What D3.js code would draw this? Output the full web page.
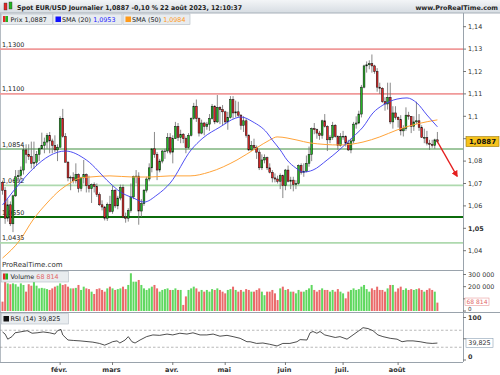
<!DOCTYPE html>
<html lang="fr">
<head>
<meta charset="UTF-8">
<title>Spot EUR/USD Journalier</title>
<script src="https://d3js.org/d3.v7.min.js"></script>
<style>
  body { margin: 0; background: #fff; }
  svg { display: block; font-family: "DejaVu Sans", Verdana, sans-serif; }
</style>
</head>
<body>
<svg id="chart" width="500" height="375"></svg>
<script>
// daily candles, index 0 = 2 Jan 2023 ... 166 = 22 Aug 2023
const opens = [1.0705,1.0670,1.0545,1.0605,1.0520,1.0645,1.0730,1.0735,1.0760,1.0850,1.0830,1.0820,1.0790,1.0795,1.0830,1.0855,1.0870,1.0885,1.0915,1.0890,1.0870,1.0850,
  1.0862,1.0990,1.0910,1.0795,1.0725,1.0727,1.0712,1.0740,1.0678,1.0725,1.0740,1.0690,1.0677,1.0695,1.0687,1.0650,1.0605,1.0595,1.0545,1.0607,
  1.0575,1.0670,1.0600,1.0635,1.0682,1.0550,1.0545,1.0580,1.0640,1.0732,1.0733,1.0577,1.0610,1.0670,1.0720,1.0770,1.0855,1.0830,1.0760,1.0800,1.0845,1.0845,1.0905,
  1.0840,1.0900,1.0955,1.0905,1.0920,1.0900,1.0860,1.0915,1.0990,1.1045,1.0990,1.0925,1.0970,1.0955,1.0965,1.0990,1.1045,1.0975,1.1040,1.1030,
  1.1020,1.0975,1.0995,1.1075,1.1015,1.1020,1.1005,1.0960,1.0980,1.0915,1.0850,1.0870,1.0860,1.0840,1.0770,1.0805,1.0815,1.0770,1.0750,1.0725,1.0720,1.0710,1.0735,
  1.0690,1.0760,1.0710,1.0715,1.0695,1.0700,1.0780,1.0750,1.0755,1.0790,1.0830,1.0945,1.0940,1.0925,1.0915,1.0980,1.0955,1.0895,1.0905,1.0960,1.0910,1.0870,
  1.0910,1.0910,1.0880,1.0850,1.0890,1.0965,1.0970,1.1010,1.1130,1.1225,1.1230,1.1235,1.1225,1.1200,1.1130,1.1125,1.1065,1.1055,1.1085,1.0975,1.1015,
  1.0995,1.0985,1.0935,1.0945,1.1005,1.1000,1.0955,1.0975,1.0980,1.0950,1.0905,1.0905,1.0880,1.0875,1.0870,1.0895];
const highs = [1.0713,1.0684,1.0630,1.0620,1.0650,1.0760,1.0760,1.0776,1.0868,1.0875,1.0875,1.0887,1.0887,1.0845,1.0860,1.0927,1.0905,1.0925,1.0930,1.0900,1.0915,1.0875,
  1.1000,1.1033,1.0925,1.0800,1.0735,1.0750,1.0790,1.0745,1.0730,1.0805,1.0745,1.0735,1.0700,1.0705,1.0700,1.0660,1.0625,1.0600,1.0615,1.0645,
  1.0690,1.0675,1.0645,1.0695,1.0695,1.0570,1.0590,1.0700,1.0735,1.0760,1.0750,1.0630,1.0675,1.0730,1.0790,1.0855,1.0930,1.0840,1.0810,1.0850,1.0855,1.0925,1.0925,
  1.0915,1.0975,1.0970,1.0940,1.0925,1.0910,1.0925,1.0995,1.1060,1.1075,1.0995,1.0985,1.0975,1.0975,1.1010,1.1055,1.1050,1.1095,1.1045,1.1050,
  1.1025,1.1020,1.1090,1.1090,1.1070,1.1065,1.1010,1.1000,1.0990,1.0920,1.0890,1.0900,1.0870,1.0850,1.0830,1.0830,1.0820,1.0790,1.0760,1.0745,1.0735,1.0745,1.0740,
  1.0765,1.0780,1.0730,1.0730,1.0715,1.0785,1.0790,1.0790,1.0825,1.0865,1.0950,1.0970,1.0945,1.0935,1.0985,1.1010,1.0960,1.0915,1.0975,1.0965,1.0915,1.0925,
  1.0935,1.0915,1.0895,1.0900,1.0975,1.1000,1.1025,1.1140,1.1230,1.1245,1.1250,1.1276,1.1230,1.1215,1.1150,1.1130,1.1085,1.1150,1.1150,1.1045,1.1045,
  1.1000,1.1005,1.0960,1.1040,1.1020,1.1000,1.1000,1.1065,1.1010,1.0960,1.0945,1.0935,1.0895,1.0895,1.0900,1.0930];
const lows = [1.0650,1.0520,1.0530,1.0510,1.0483,1.0640,1.0713,1.0715,1.0740,1.0790,1.0805,1.0767,1.0765,1.0780,1.0800,1.0855,1.0835,1.0855,1.0835,1.0835,1.0840,1.0800,
  1.0860,1.0905,1.0795,1.0710,1.0670,1.0700,1.0700,1.0660,1.0665,1.0700,1.0660,1.0660,1.0613,1.0660,1.0640,1.0600,1.0580,1.0535,1.0533,1.0570,
  1.0565,1.0590,1.0585,1.0625,1.0545,1.0525,1.0530,1.0570,1.0630,1.0700,1.0516,1.0550,1.0600,1.0660,1.0710,1.0750,1.0815,1.0715,1.0750,1.0790,1.0810,1.0835,1.0830,
  1.0790,1.0900,1.0890,1.0880,1.0880,1.0835,1.0855,1.0910,1.0985,1.0975,1.0910,1.0920,1.0915,1.0940,1.0935,1.0985,1.0965,1.0970,1.0965,1.0960,
  1.0965,1.0940,1.0990,1.0990,1.0995,1.0995,1.0940,1.0930,1.0905,1.0845,1.0845,1.0850,1.0810,1.0760,1.0760,1.0790,1.0760,1.0745,1.0705,1.0705,1.0700,1.0675,1.0635,
  1.0670,1.0705,1.0675,1.0665,1.0675,1.0695,1.0740,1.0730,1.0750,1.0775,1.0800,1.0920,1.0900,1.0895,1.0900,1.0950,1.0845,1.0880,1.0895,1.0905,1.0850,1.0865,
  1.0895,1.0865,1.0845,1.0835,1.0880,1.0945,1.0965,1.0995,1.1125,1.1195,1.1210,1.1195,1.1190,1.1110,1.1100,1.1060,1.1025,1.1030,1.0965,1.0945,1.0985,
  1.0950,1.0915,1.0910,1.0935,1.0985,1.0925,1.0935,1.0965,1.0935,1.0905,1.0880,1.0870,1.0850,1.0860,1.0855,1.0880];
const closes = [1.0670,1.0545,1.0605,1.0520,1.0645,1.0730,1.0735,1.0760,1.0850,1.0830,1.0820,1.0790,1.0795,1.0830,1.0855,1.0870,1.0885,1.0915,1.0890,1.0870,1.0850,1.0862,
  1.0990,1.0910,1.0795,1.0725,1.0727,1.0712,1.0740,1.0678,1.0725,1.0740,1.0690,1.0677,1.0695,1.0687,1.0650,1.0605,1.0595,1.0545,1.0607,1.0575,
  1.0670,1.0600,1.0635,1.0682,1.0550,1.0545,1.0580,1.0640,1.0732,1.0733,1.0577,1.0610,1.0670,1.0720,1.0770,1.0855,1.0830,1.0760,1.0800,1.0845,1.0845,1.0905,1.0840,
  1.0900,1.0955,1.0905,1.0920,1.0900,1.0860,1.0915,1.0990,1.1045,1.0990,1.0925,1.0970,1.0955,1.0965,1.0990,1.1045,1.0975,1.1040,1.1030,1.1020,
  1.0975,1.0995,1.1075,1.1015,1.1020,1.1005,1.0960,1.0980,1.0915,1.0850,1.0870,1.0860,1.0840,1.0770,1.0805,1.0815,1.0770,1.0750,1.0725,1.0720,1.0710,1.0735,1.0690,
  1.0760,1.0710,1.0715,1.0695,1.0700,1.0780,1.0750,1.0755,1.0790,1.0830,1.0945,1.0940,1.0925,1.0915,1.0980,1.0955,1.0895,1.0905,1.0960,1.0910,1.0870,1.0910,
  1.0910,1.0880,1.0850,1.0890,1.0965,1.0970,1.1010,1.1130,1.1225,1.1230,1.1235,1.1225,1.1200,1.1130,1.1125,1.1065,1.1055,1.1085,1.0975,1.1015,1.0995,
  1.0985,1.0935,1.0945,1.1005,1.1000,1.0955,1.0975,1.0980,1.0950,1.0905,1.0905,1.0880,1.0875,1.0870,1.0895,1.0887];
// volume in thousands
const volumes = [77,241,227,220,227,220,200,227,214,159,220,208,255,208,186,190,186,180,173,186,200,208,
  227,214,220,200,186,186,190,214,173,200,186,180,159,140,180,186,173,159,186,200,
  186,173,180,186,200,180,214,310,241,241,255,214,186,173,186,200,214,186,159,173,180,186,173,
  173,186,173,173,50,120,173,186,200,186,159,173,159,173,159,180,173,186,173,159,
  145,173,180,200,173,159,173,159,180,173,159,159,173,186,159,130,159,159,173,145,90,186,200,
  173,180,159,159,145,173,159,159,173,186,214,173,159,173,186,173,173,159,173,159,180,159,
  145,104,159,173,186,173,180,200,214,180,159,186,173,200,173,173,159,186,214,214,159,
  186,200,173,186,173,180,173,180,186,173,159,173,186,173,159,68.814];
// moving averages and RSI, read at sampled days
const sma20Day = [0,24,32,41,45,50,54,59,64,72,76.5,83,89,91,95.6,101,103,106,108.6,112,114.7,118.5,123.9,127.7,133.8,137.6,141.4,145.2,150.6,154.4,158.2,162,166];
const sma20Val = [1.0604,1.0845,1.0805,1.0702,1.0662,1.0635,1.0617,1.0649,1.0702,1.0850,1.0903,1.0952,1.0992,1.0997,1.0975,1.0926,1.0894,1.0850,1.0805,1.0769,1.0751,1.0760,1.0805,1.0841,1.0908,1.0952,1.1015,1.1050,1.1077,1.1082,1.1059,1.1006,1.0953];
const sma50Day = [0,6.7,11.6,17,22,25.8,29.6,33.4,41,49.8,56.3,64,71.6,79,89.5,97,102,104.8,112.4,117.4,128.8,137.6,144,150.6,158.2,166];
const sma50Val = [1.0367,1.0448,1.0537,1.0613,1.0671,1.0702,1.0725,1.0729,1.0734,1.0729,1.0729,1.0734,1.0734,1.0751,1.0805,1.0859,1.0894,1.0908,1.0894,1.0881,1.0872,1.0885,1.0908,1.0939,1.0966,1.0984];
const rsiDay = [0,1,2,3.6,4.8,6.7,9.4,11.3,13.2,15.5,18,20,21,22.3,23,25,27,29.6,34.5,37,39,41,42,43.7,44.8,46.8,48,49.4,50.6,52.5,55,57.4,60,62.8,65,67.7,70.4,72.7,75.4,78,80.4,83,85.7,88,90.7,93.3,94.5,97,99.4,102,104.8,107,109.7,112.4,113.6,116.2,117.4,118.5,120,121.2,123,125,127,128.8,131.5,133.8,136.5,137.6,139.5,141.4,143.3,145.2,148,150.6,152.5,154.4,156.7,159.4,162,164,166];
const rsiVal = [66,61,49,55,64,66,69,63,64,66,64,61,69,72,59,47,46,45,42,39,35,40,43,45,40,47,55,43,40,47,55,59,58,61,59,63,61,64,59,59,61,56,58,55,51,43,43,39,40,37,33,39,39,43,48,47,64,67,63,67,59,56,53,55,49,59,71,76,74,69,59,55,51,49,43,45,45,43,40,39,39.825];
// axis labels and levels
const monthDay = [22, 42, 65, 85, 108, 130, 151];
const monthLabel = ["févr.", "mars", "avr.", "mai", "juin", "juil.", "août"];
const priceTicks = [1.04, 1.05, 1.06, 1.07, 1.08, 1.09, 1.10, 1.11, 1.12, 1.13, 1.14];
const redLevels = [1.1300, 1.1100];
const greenLevels = [1.0854, 1.0692, 1.0550, 1.0435];
const volTicks = [0, 100000, 200000, 300000];
const rsiTicks = [0, 50, 100];
const rsiBands = [70, 30];
const arrowFrom = [166, 1.0887], arrowTo = [173.5, 1.0733];

const fr = d3.formatLocale({decimal: ",", thousands: "\u00a0", grouping: [3], currency: ["", ""]});
const fPrice = fr.format(".2~f"), fLevel = fr.format(".4f"), fVol = fr.format(",d");

const svg = d3.select("#chart");
const W = 500, axisX = 463;
const green = "#22b422", red = "#e42626";

const x = d3.scaleLinear().domain([0, 166]).range([2.5, 437.4]);
const y = d3.scaleLinear().domain([1.04, 1.14]).range([250.7, 26.7]);
const yVol = d3.scaleLinear().domain([0, 300000]).range([311, 274.5]);
const yRsi = d3.scaleLinear().domain([0, 100]).range([360, 317.5]);

const defs = svg.append("defs");
const hg = defs.append("linearGradient").attr("id", "hdr").attr("x1", 0).attr("x2", 0).attr("y1", 0).attr("y2", 1);
hg.append("stop").attr("offset", 0).attr("stop-color", "#f3f5f7");
hg.append("stop").attr("offset", 1).attr("stop-color", "#d6dce2");
defs.append("clipPath").attr("id", "main").append("rect").attr("x", 0).attr("y", 13).attr("width", axisX).attr("height", 257);

// header bar
svg.append("rect").attr("width", W).attr("height", 13).attr("fill", "url(#hdr)");
svg.append("line").attr("x1", 0).attr("x2", W).attr("y1", 13).attr("y2", 13).attr("stroke", "#a7b0b9");
svg.append("rect").attr("x", 4).attr("y", 3).attr("width", 3).attr("height", 7).attr("fill", red).attr("stroke", "#333").attr("stroke-width", 0.4);
svg.append("rect").attr("x", 9).attr("y", 2).attr("width", 3).attr("height", 7).attr("fill", green).attr("stroke", "#333").attr("stroke-width", 0.4);
svg.append("text").attr("x", 17).attr("y", 9.5).attr("font-size", 6.6).attr("font-weight", "bold").attr("fill", "#222")
  .attr("textLength", 225).attr("lengthAdjust", "spacingAndGlyphs")
  .text("Spot EUR/USD Journalier 1,0887 -0,10 % 22 août 2023, 12:10:37");
svg.append("text").attr("x", 498).attr("y", 9.5).attr("text-anchor", "end").attr("font-size", 6.4).attr("font-weight", "bold").attr("fill", "#222")
  .text("www.ProRealTime.com");

// frame lines
svg.append("line").attr("x1", 0.5).attr("x2", 0.5).attr("y1", 13).attr("y2", 362).attr("stroke", "#b5bcc3");
svg.append("line").attr("x1", axisX + 0.5).attr("x2", axisX + 0.5).attr("y1", 13).attr("y2", 362).attr("stroke", "#9aa3ac");
svg.append("line").attr("x1", 0).attr("x2", axisX).attr("y1", 270.5).attr("y2", 270.5).attr("stroke", "#9aa3ac");
svg.append("line").attr("x1", 0).attr("x2", W).attr("y1", 312.5).attr("y2", 312.5).attr("stroke", "#9aa3ac");
svg.append("line").attr("x1", 0).attr("x2", axisX).attr("y1", 362.5).attr("y2", 362.5).attr("stroke", "#9aa3ac");

// main price panel
const main = svg.append("g").attr("clip-path", "url(#main)");
redLevels.forEach(v => {
  main.append("line").attr("x1", 0).attr("x2", axisX).attr("y1", y(v)).attr("y2", y(v)).attr("stroke", "#f09a9a").attr("stroke-width", 1.6);
});
const gStyle = {1.0854: ["#3f8f3f", 1], 1.0692: ["#aed9ae", 1.8], 1.0550: ["#0b6b0b", 2], 1.0435: ["#aed9ae", 1.8]};
greenLevels.forEach(v => {
  main.append("line").attr("x1", 0).attr("x2", axisX).attr("y1", y(v)).attr("y2", y(v))
    .attr("stroke", gStyle[v][0]).attr("stroke-width", gStyle[v][1]);
});
redLevels.concat(greenLevels).forEach(v => {
  main.append("text").attr("x", 2).attr("y", y(v) - 2.5).attr("font-size", 6.4).attr("fill", "#222").text(fLevel(v));
});

const days = d3.range(closes.length);
// wicks
main.append("g").selectAll("line").data(days).join("line")
  .attr("x1", i => x(i)).attr("x2", i => x(i))
  .attr("y1", i => y(highs[i])).attr("y2", i => y(lows[i]))
  .attr("stroke", "#6b6b6b").attr("stroke-width", 0.8);
// bodies
main.append("g").selectAll("rect").data(days).join("rect")
  .attr("x", i => x(i) - 0.9).attr("width", 1.8)
  .attr("y", i => y(Math.max(opens[i], closes[i])))
  .attr("height", i => Math.max(0.6, Math.abs(y(opens[i]) - y(closes[i]))))
  .attr("fill", i => closes[i] >= opens[i] ? green : red)
  .attr("stroke", "#111").attr("stroke-width", 0.5);

const maLine = d3.line().x(d => x(d[0])).y(d => y(d[1])).curve(d3.curveMonotoneX);
main.append("path").datum(sma50Day.map((d, k) => [d, sma50Val[k]])).attr("d", maLine)
  .attr("fill", "none").attr("stroke", "#ffa43a").attr("stroke-width", 1);
main.append("path").datum(sma20Day.map((d, k) => [d, sma20Val[k]])).attr("d", maLine)
  .attr("fill", "none").attr("stroke", "#3b3bf0").attr("stroke-width", 0.9);

// red arrow
defs.append("marker").attr("id", "arr").attr("viewBox", "0 0 10 10").attr("refX", 8).attr("refY", 5)
  .attr("markerWidth", 5).attr("markerHeight", 5).attr("orient", "auto")
  .append("path").attr("d", "M0,0L10,5L0,10z").attr("fill", "#e41e1e");
svg.append("line").attr("x1", x(arrowFrom[0])).attr("y1", y(arrowFrom[1]))
  .attr("x2", x(arrowTo[0])).attr("y2", y(arrowTo[1]))
  .attr("stroke", "#e41e1e").attr("stroke-width", 1.3).attr("marker-end", "url(#arr)");

svg.append("text").attr("x", 2).attr("y", 267).attr("font-size", 7).attr("fill", "#333").text("ProRealTime.com");

// price axis (labels hidden behind the last-price box are not drawn)
const last = closes[closes.length - 1];
const pAxis = svg.append("g");
priceTicks.forEach(v => {
  pAxis.append("line").attr("x1", axisX).attr("x2", axisX + 3).attr("y1", y(v)).attr("y2", y(v)).attr("stroke", "#777");
  if (Math.abs(y(v) - y(last)) < 9) return;
  pAxis.append("text").attr("x", 468).attr("y", y(v) + 2.2).attr("font-size", 6.4)
    .attr("font-weight", v === 1.05 ? "bold" : "normal").attr("fill", "#333").text(fPrice(v));
});
svg.append("rect").attr("x", 466).attr("y", y(last) - 5).attr("width", 33).attr("height", 10)
  .attr("fill", "#f6c21c").attr("stroke", "#9a7a10").attr("stroke-width", 0.6);
svg.append("text").attr("x", 482.5).attr("y", y(last) + 2.4).attr("text-anchor", "middle")
  .attr("font-size", 7).attr("font-weight", "bold").attr("fill", "#111").text(fr.format(".4f")(last));

// legend boxes
function legendBox(x0, w, yy, items) {
  svg.append("rect").attr("x", x0).attr("y", yy).attr("width", w).attr("height", 10.5)
    .attr("fill", "#e8ecef").attr("stroke", "#b3bbc3").attr("stroke-width", 0.6);
  const t = svg.append("text").attr("x", x0 + 9).attr("y", yy + 7.6).attr("font-size", 6.4);
  items.forEach(it => t.append("tspan").attr("fill", it[1]).text(it[0]));
}
legendBox(1.5, 51, 14, [["Prix 1,0887", "#222"]]);
svg.append("rect").attr("x", 3).attr("y", 16).attr("width", 2.5).attr("height", 6).attr("fill", red);
svg.append("rect").attr("x", 5.5).attr("y", 16).attr("width", 2.5).attr("height", 6).attr("fill", green);
legendBox(53, 69, 14, [["SMA (20) ", "#222"], ["1,0953", "#2323ff"]]);
svg.append("rect").attr("x", 55.5).attr("y", 16.5).attr("width", 5.5).attr("height", 5.5).attr("fill", "#1010ff");
legendBox(123, 67, 14, [["SMA (50) ", "#222"], ["1,0984", "#ff9a1a"]]);
svg.append("rect").attr("x", 125.5).attr("y", 16.5).attr("width", 5.5).attr("height", 5.5).attr("fill", "#ff9a1a");

// volume panel
const lastVol = volumes[volumes.length - 1] * 1000;
svg.append("g").selectAll("rect").data(days).join("rect")
  .attr("x", i => x(i) - 1).attr("width", 2)
  .attr("y", i => yVol(volumes[i] * 1000))
  .attr("height", i => yVol(0) - yVol(volumes[i] * 1000))
  .attr("fill", i => closes[i] >= opens[i] ? "#5fd85f" : "#ea6a6a");
legendBox(1.5, 67, 271.5, [["Volume ", "#222"], ["68 814", "#e26a6a"]]);
svg.append("rect").attr("x", 3).attr("y", 273.5).attr("width", 2.5).attr("height", 6).attr("fill", red);
svg.append("rect").attr("x", 5.5).attr("y", 273.5).attr("width", 2.5).attr("height", 6).attr("fill", green);
volTicks.forEach(v => {
  svg.append("line").attr("x1", axisX).attr("x2", axisX + 3).attr("y1", yVol(v)).attr("y2", yVol(v)).attr("stroke", "#777");
  if (v === 100000) return; // covered by the last-volume box
  svg.append("text").attr("x", 468).attr("y", v === 0 ? 311.4 : yVol(v) + 2.2).attr("font-size", v === 0 ? 5.6 : 6.4)
    .attr("fill", "#333").text(fVol(v));
});
svg.append("rect").attr("x", 465).attr("y", yVol(lastVol) - 4.6).attr("width", 24).attr("height", 7.4)
  .attr("fill", "#fff").attr("stroke", "#e89a9a").attr("stroke-width", 0.6);
svg.append("text").attr("x", 477).attr("y", yVol(lastVol) + 1.3).attr("text-anchor", "middle").attr("font-size", 6)
  .attr("fill", "#e26a6a").text(fVol(lastVol));

// RSI panel
const lastRsi = rsiVal[rsiVal.length - 1];
rsiBands.forEach(v => {
  svg.append("line").attr("x1", 0).attr("x2", axisX).attr("y1", yRsi(v)).attr("y2", yRsi(v))
    .attr("stroke", "#8c8c8c").attr("stroke-width", 0.6).attr("stroke-dasharray", "2.5,2");
});
svg.append("path").datum(rsiDay.map((d, k) => [d, rsiVal[k]]))
  .attr("d", d3.line().x(d => x(d[0])).y(d => yRsi(d[1])))
  .attr("fill", "none").attr("stroke", "#222").attr("stroke-width", 0.8);
legendBox(1.5, 67, 313.5, [["RSI (14) 39,825", "#222"]]);
svg.append("rect").attr("x", 3.5).attr("y", 316).attr("width", 5.5).attr("height", 5.5).attr("fill", "#111");
rsiTicks.forEach(v => {
  svg.append("line").attr("x1", axisX).attr("x2", axisX + 3).attr("y1", yRsi(v)).attr("y2", yRsi(v)).attr("stroke", "#777");
  if (Math.abs(yRsi(v) - yRsi(lastRsi)) < 7) return;
  svg.append("text").attr("x", 468).attr("y", Math.min(yRsi(v) + 2.4, 359)).attr("font-size", 6.4)
    .attr("font-weight", "bold").attr("fill", "#333").text(v);
});
svg.append("rect").attr("x", 466).attr("y", yRsi(lastRsi) - 4.5).attr("width", 27).attr("height", 9)
  .attr("fill", "#fff").attr("stroke", "#8aa0b4").attr("stroke-width", 0.6);
svg.append("text").attr("x", 479.5).attr("y", yRsi(lastRsi) + 2.3).attr("text-anchor", "middle").attr("font-size", 6.4)
  .attr("fill", "#333").text(fr.format(".3f")(lastRsi));

// date axis
monthDay.forEach((d, k) => {
  svg.append("line").attr("x1", x(d)).attr("x2", x(d)).attr("y1", 362).attr("y2", 365).attr("stroke", "#777");
  svg.append("text").attr("x", x(d) - 1).attr("y", 372).attr("text-anchor", "middle").attr("font-size", 6.6)
    .attr("font-weight", "bold").attr("fill", "#333").text(monthLabel[k]);
});
</script>
</body>
</html>
